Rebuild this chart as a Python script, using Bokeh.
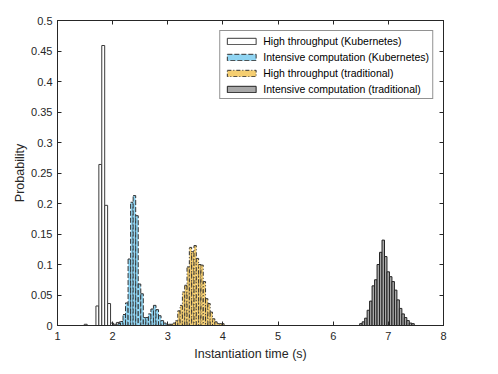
import numpy as np
from bokeh.plotting import figure
from bokeh.models import (Range1d, LinearAxis, FixedTicker, NumeralTickFormatter,
                          Legend, LegendItem, ColumnDataSource)
from bokeh.embed import file_html
from bokeh.resources import INLINE

# ---------------- data ----------------
x_ticks = [1, 2, 3, 4, 5, 6, 7, 8]
y_ticks = [0, 0.05, 0.1, 0.15, 0.2, 0.25, 0.3, 0.35, 0.4, 0.45, 0.5]

series_labels = ["High throughput (Kubernetes)",
                 "Intensive computation (Kubernetes)",
                 "High throughput (traditional)",
                 "Intensive computation (traditional)"]

# High throughput (Kubernetes)
ht_kube_start = 1.485
ht_kube_width = 0.053
ht_kube_prob = [0.002, 0, 0, 0, 0.032, 0.264, 0.459, 0.197, 0.036, 0.004,
                0.002, 0.005, 0.006, 0.003]

# Intensive computation (Kubernetes)
ic_kube_start = 2.096
ic_kube_width = 0.046
ic_kube_prob = [0.003, 0.0066, 0.018, 0.037, 0.109, 0.202, 0.213, 0.18, 0.068,
                0.052, 0.013, 0.013, 0.019, 0.027, 0.033, 0.026, 0.016, 0.008,
                0.004]

# High throughput (traditional)
ht_trad_start = 3.013
ht_trad_width = 0.042
ht_trad_prob = [0.002, 0.002, 0.004, 0.0077, 0.024, 0.033, 0.055, 0.066, 0.096,
                0.128, 0.121, 0.131, 0.110, 0.100, 0.099, 0.072, 0.044, 0.036,
                0.022, 0.011, 0.006, 0.003, 0.003, 0.003]

# Intensive computation (traditional)
ic_trad_start = 6.48
ic_trad_width = 0.045
ic_trad_prob = [0.003, 0.006, 0.012, 0.025, 0.04, 0.065, 0.075, 0.1, 0.12, 0.14,
                0.113, 0.088, 0.08, 0.072, 0.058, 0.042, 0.028, 0.019, 0.013,
                0.008, 0.004, 0.003]

# ---------------- styles ----------------
FONT = "Liberation Sans"
AX = "#262626"

def hist_source(start, width, prob):
    prob = np.asarray(prob, dtype=float)
    left = start + width * np.arange(len(prob))
    return ColumnDataSource(dict(left=left, right=left + width, top=prob,
                                 bottom=np.zeros_like(prob)))

p = figure(frame_width=386, frame_height=305,
           min_border_left=57, min_border_top=20,
           min_border_bottom=33, min_border_right=39,
           x_range=Range1d(1, 8), y_range=Range1d(0, 0.5),
           output_backend="svg", toolbar_location=None)
p.xgrid.visible = False
p.ygrid.visible = False
p.outline_line_color = AX
p.outline_line_width = 1
p.background_fill_color = "white"
p.border_fill_color = "white"

styles = [
    dict(fill_color="white", line_color="#3a3a3a", line_dash="solid"),
    dict(fill_color="#8FD4F2", line_color="#333333", line_dash="5 2"),
    dict(fill_color="#F5CE70", line_color="#333333", line_dash="4 2 1 2"),
    dict(fill_color="#A8A8A8", line_color="#222222", line_dash="solid"),
]
sources = [hist_source(ht_kube_start, ht_kube_width, ht_kube_prob),
           hist_source(ic_kube_start, ic_kube_width, ic_kube_prob),
           hist_source(ht_trad_start, ht_trad_width, ht_trad_prob),
           hist_source(ic_trad_start, ic_trad_width, ic_trad_prob)]

renderers = []
for src, st in zip(sources, styles):
    r = p.quad(left="left", right="right", top="top", bottom="bottom", source=src,
               fill_color=st["fill_color"], line_color=st["line_color"],
               line_dash=st["line_dash"], line_width=1)
    renderers.append(r)

# axes
def style_axis(ax, labels=True):
    ax.axis_line_color = AX
    ax.major_tick_line_color = AX
    ax.major_tick_in = 4
    ax.major_tick_out = 0
    ax.minor_tick_line_color = None
    ax.major_label_text_font = FONT
    ax.major_label_text_color = AX
    ax.axis_label_text_font = FONT
    ax.axis_label_text_color = AX
    ax.axis_label_text_font_style = "normal"
    if not labels:
        ax.major_label_text_font_size = "0px"
        ax.major_label_text_color = None

p.xaxis.ticker = FixedTicker(ticks=x_ticks)
p.yaxis.ticker = FixedTicker(ticks=y_ticks)
p.xaxis.formatter = NumeralTickFormatter(format="0")
p.yaxis.formatter = NumeralTickFormatter(format="0.[00]")
style_axis(p.xaxis[0])
style_axis(p.yaxis[0])
p.xaxis.axis_label = "Instantiation time (s)"
p.yaxis.axis_label = "Probability"
p.xaxis.major_label_text_font_size = "11px"
p.yaxis.major_label_text_font_size = "11px"
p.xaxis.axis_label_text_font_size = "12.5px"
p.yaxis.axis_label_text_font_size = "12.5px"
p.xaxis.major_label_standoff = 6
p.yaxis.major_label_standoff = 5
p.xaxis.axis_label_standoff = 4
p.yaxis.axis_label_standoff = 1

top_ax = LinearAxis(ticker=FixedTicker(ticks=x_ticks))
right_ax = LinearAxis(ticker=FixedTicker(ticks=y_ticks))
style_axis(top_ax, labels=False)
style_axis(right_ax, labels=False)
p.add_layout(top_ax, "above")
p.add_layout(right_ax, "right")

legend = Legend(items=[LegendItem(label=lab, renderers=[r])
                       for lab, r in zip(series_labels, renderers)],
                location="top_right")
legend.margin = 10
legend.padding = 3
legend.spacing = 3
legend.glyph_width = 36
legend.glyph_height = 8
legend.label_height = 13
legend.label_standoff = 4
legend.label_text_font = FONT
legend.label_text_font_size = "10.5px"
legend.label_text_color = "black"
legend.border_line_color = AX
legend.border_line_width = 1
legend.background_fill_alpha = 1
p.add_layout(legend)

open("out.html", "w").write(file_html(p, INLINE))
